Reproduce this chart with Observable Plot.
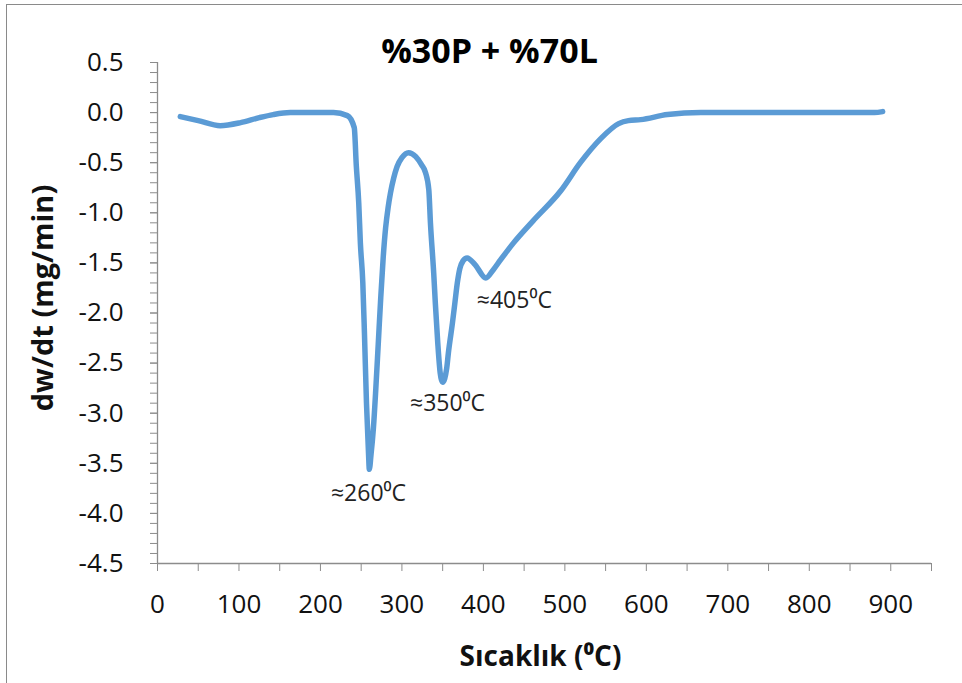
<!DOCTYPE html>
<html>
<head>
<meta charset="utf-8">
<script src="https://cdn.jsdelivr.net/npm/d3@7"></script>
<script src="https://cdn.jsdelivr.net/npm/@observablehq/plot@0.6"></script>
<style>
  html, body { margin: 0; padding: 0; background: #fff; }
  #wrap { position: relative; width: 962px; height: 683px; overflow: hidden; }
  #frame { position: absolute; left: 6px; top: 4px; width: 980px; height: 700px; border: 1.5px solid #8a8a8a; box-sizing: border-box; }
  #chart { position: absolute; left: 0; top: 0; }
</style>
</head>
<body>
<div id="wrap"><div id="frame"></div><div id="chart"></div></div>
<script>
// Temperature (°C)
const temperature = [28, 50, 77, 102, 125, 142, 163, 190, 216, 233, 241.5, 244, 247, 249, 252, 254, 256.5, 259, 260, 262, 265, 268, 271, 274, 277, 280, 283, 286, 290, 294, 300, 308, 317, 324, 329, 333, 335, 339, 341, 344, 347, 350, 355, 357, 362, 365, 368, 371, 375, 380, 390, 403, 412, 421, 437, 461, 495, 519, 544, 566, 578, 593, 626, 667, 750, 800, 850, 880, 890];
// dw/dt (mg/min)
const dwdt = [-0.04, -0.08, -0.13, -0.10, -0.05, -0.02, 0.0, 0.0, 0.0, -0.03, -0.15, -0.53, -0.9, -1.3, -1.7, -2.2, -2.9, -3.4, -3.56, -3.42, -3.15, -2.75, -2.3, -1.85, -1.45, -1.15, -0.95, -0.8, -0.65, -0.54, -0.45, -0.40, -0.44, -0.52, -0.6, -0.77, -1.1, -1.6, -1.9, -2.3, -2.6, -2.69, -2.55, -2.4, -2.1, -1.9, -1.7, -1.56, -1.48, -1.45, -1.52, -1.65, -1.57, -1.47, -1.30, -1.08, -0.78, -0.5, -0.26, -0.11, -0.08, -0.07, -0.02, 0.0, 0.0, 0.0, 0.0, 0.0, 0.01];

// Peak annotations
const annoText = ["≈260⁰C", "≈350⁰C", "≈405⁰C"];
const annoX = [259, 356, 438];
const annoY = [-3.8, -2.9, -1.88];

// Axis ticks
const yTicks = [0.5, 0.0, -0.5, -1.0, -1.5, -2.0, -2.5, -3.0, -3.5, -4.0, -4.5];
const yMinor = d3.range(-45, 6, 1).map(d => d / 10);
const xTicks = d3.range(0, 951, 50);

const title = "%30P + %70L";
const xLabel = "Sıcaklık (⁰C)";
const yLabel = "dw/dt (mg/min)";

const data = temperature.map((t, i) => ({t, v: dwdt[i]}));
const anno = annoText.map((s, i) => ({s, x: annoX[i], y: annoY[i]}));

const axisColor = "#8c8c8c";
const font = "'Open Sans', Lato, sans-serif";

const plot = Plot.plot({
  width: 962,
  height: 683,
  marginLeft: 157,
  marginRight: 31,
  marginTop: 62,
  marginBottom: 120,
  style: {fontFamily: font, fontSize: "26px", color: "#111", background: "transparent", overflow: "visible"},
  x: {domain: [0, 950], label: null},
  y: {domain: [-4.5, 0.5], label: null},
  marks: [
    Plot.axisY(yMinor, {tickSize: 7, tickFormat: () => "", stroke: axisColor}),
    Plot.axisY(yTicks, {tickSize: 7, tickPadding: 27, tickFormat: d => d.toFixed(1), stroke: axisColor, fill: "#111", fontSize: 26}),
    Plot.axisX(xTicks, {tickSize: 8, tickPadding: 23, tickFormat: d => d % 100 === 0 ? String(d) : "", stroke: axisColor, fill: "#111", fontSize: 26}),
    Plot.ruleX([0], {y1: -4.5, y2: 0.5, stroke: axisColor, strokeWidth: 1.3}),
    Plot.ruleY([-4.5], {x1: 0, x2: 950, stroke: axisColor, strokeWidth: 1.3}),
    Plot.line(data, {x: "t", y: "v", stroke: "#5b9bd5", strokeWidth: 5.5, curve: "monotone-x", strokeLinecap: "round", strokeLinejoin: "round"}),
    Plot.text(anno, {x: "x", y: "y", text: "s", fontSize: 23, fill: "#222", textAnchor: "middle", lineAnchor: "middle"}),
    Plot.text([title], {text: d => d, frameAnchor: "top", dx: -55, dy: -10, lineAnchor: "middle", fontSize: 34, fontWeight: "bold", fill: "#000"}),
    Plot.text([xLabel], {text: d => d, frameAnchor: "bottom", dx: -4, dy: 94, lineAnchor: "middle", fontSize: 28, fontWeight: "bold", fill: "#111"}),
    Plot.text([yLabel], {text: d => d, frameAnchor: "left", dx: -114, dy: -15, rotate: -90, textAnchor: "middle", lineAnchor: "middle", fontSize: 29, fontWeight: "bold", fill: "#111"})
  ]
});
document.getElementById("chart").appendChild(plot);
</script>
</body>
</html>
